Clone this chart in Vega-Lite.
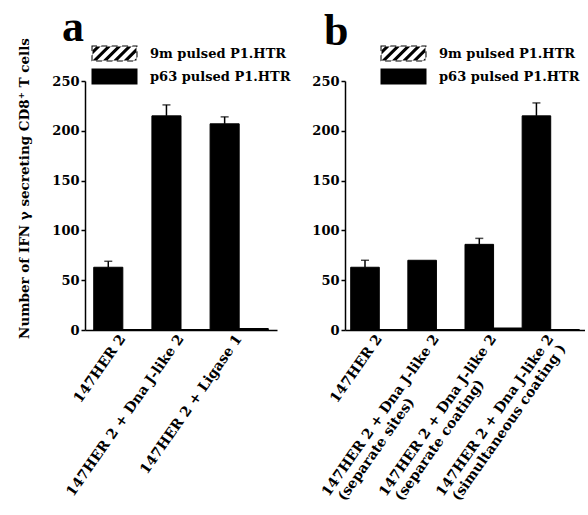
{
  "$schema": "https://vega.github.io/schema/vega-lite/v6.json",
  "padding": {"left": 17, "top": 5, "right": 0, "bottom": 0},
  "background": "white",
  "config": {
    "font": "DejaVu Serif",
    "view": {"stroke": null},
    "axis": {
      "domainColor": "black", "domainWidth": 1.5, "tickColor": "black", "tickWidth": 1.5,
      "labelFont": "DejaVu Serif", "labelFontWeight": "bold", "labelColor": "black",
      "titleFont": "DejaVu Serif", "titleFontWeight": "bold", "titleColor": "black", "grid": false
    },
    "legend": {
      "labelFont": "DejaVu Serif", "labelFontWeight": "bold", "labelColor": "black", "labelFontSize": 13
    },
    "title": {"font": "Liberation Serif", "fontWeight": "bold", "fontSize": 44, "color": "black", "anchor": "start", "frame": "group"}
  },
  "datasets": {
    "a": [
      {"cat": "147HER 2", "series": "p63 pulsed P1.HTR", "value": 63, "err": 69},
      {"cat": "147HER 2", "series": "9m pulsed P1.HTR", "value": 0.5, "err": 0},
      {"cat": "147HER 2 + Dna J-like 2", "series": "p63 pulsed P1.HTR", "value": 215, "err": 226},
      {"cat": "147HER 2 + Dna J-like 2", "series": "9m pulsed P1.HTR", "value": 0.5, "err": 0},
      {"cat": "147HER 2 + Ligase 1", "series": "p63 pulsed P1.HTR", "value": 207, "err": 214},
      {"cat": "147HER 2 + Ligase 1", "series": "9m pulsed P1.HTR", "value": 1.5, "err": 0}
    ],
    "b": [
      {"cat": "147HER 2", "series": "p63 pulsed P1.HTR", "value": 63, "err": 70},
      {"cat": "147HER 2", "series": "9m pulsed P1.HTR", "value": 0.5, "err": 0},
      {"cat": "147HER 2 + Dna J-like 2|(separate sites)", "series": "p63 pulsed P1.HTR", "value": 70, "err": 0},
      {"cat": "147HER 2 + Dna J-like 2|(separate sites)", "series": "9m pulsed P1.HTR", "value": 0.5, "err": 0},
      {"cat": "147HER 2 + Dna J-like 2|(separate coating)", "series": "p63 pulsed P1.HTR", "value": 86, "err": 92},
      {"cat": "147HER 2 + Dna J-like 2|(separate coating)", "series": "9m pulsed P1.HTR", "value": 2, "err": 0},
      {"cat": "147HER 2 + Dna J-like 2|(simultaneous coating )", "series": "p63 pulsed P1.HTR", "value": 215, "err": 228},
      {"cat": "147HER 2 + Dna J-like 2|(simultaneous coating )", "series": "9m pulsed P1.HTR", "value": 0.5, "err": 0}
    ]
  },
  "hconcat": [
    {
      "width": 192, "height": 249,
      "title": {"text": "a", "dx": -23, "offset": -12},
      "data": {"name": "a"},
      "encoding": {
        "x": {"field": "cat", "type": "nominal", "sort": null,
              "scale": {"paddingInner": 0, "paddingOuter": 0.15},
              "axis": {"title": null, "labelAngle": -55, "labelAlign": "right", "labelBaseline": "middle", "ticks": false, "labelLimit": 0,
                       "labelFontSize": 14, "labelPadding": 6}},
        "xOffset": {"field": "series", "type": "nominal", "scale": {"domain": ["p63 pulsed P1.HTR", "9m pulsed P1.HTR"], "paddingInner": 0}}
      },
      "layer": [
        {
          "mark": {"type": "bar", "stroke": "black", "strokeWidth": 1},
          "encoding": {
            "y": {"field": "value", "type": "quantitative", "scale": {"domain": [0, 250], "nice": false},
                  "axis": {"values": [0, 50, 100, 150, 200, 250], "tickSize": 4, "labelFontSize": 13, "labelPadding": 2,
                           "title": "Number of IFN γ secreting CD8⁺ T cells", "titleFontSize": 13.5, "titlePadding": 20, "titleY": 107}},
            "fill": {"field": "series", "type": "nominal",
                     "scale": {"domain": ["9m pulsed P1.HTR", "p63 pulsed P1.HTR"], "range": ["black", "black"]},
                     "legend": {"orient": "none", "legendX": 18, "legendY": -39, "title": null, "direction": "vertical",
                                "symbolSize": 529, "symbolStrokeWidth": 0, "symbolOpacity": 1, "labelOffset": 24, "rowPadding": 3}}
          }
        },
        {
          "transform": [{"filter": "false"}],
          "mark": {"type": "point", "filled": true},
          "encoding": {
            "y": {"field": "value", "type": "quantitative"},
            "shape": {"field": "series", "type": "nominal",
                      "scale": {"domain": ["9m pulsed P1.HTR", "p63 pulsed P1.HTR"],
                                "range": ["M-2,-0.7H2V0.7H-2Z M-1.91,-0.61V0.61H1.91V-0.61Z M-2,0.18L-1.12,-0.7L-1.5,-0.7L-2,-0.2Z M-2,0.7L-1.62,0.7L-0.22,-0.7L-0.6,-0.7Z M-1.1,0.7L-0.72,0.7L0.68,-0.7L0.3,-0.7Z M-0.2,0.7L0.18,0.7L1.58,-0.7L1.2,-0.7Z M0.7,0.7L1.08,0.7L2,-0.22L2,-0.6Z M1.6,0.7L1.98,0.7L2,0.68L2,0.3Z", "M-2,-0.7H2V0.7H-2Z"]},
                      "legend": {"orient": "none", "legendX": 18, "legendY": -39, "title": null, "direction": "vertical",
                                 "symbolSize": 529, "symbolStrokeWidth": 0, "symbolOpacity": 1, "labelOffset": 24, "rowPadding": 3}}
          }
        },
        {
          "transform": [{"filter": "datum.err > 0"}],
          "mark": {"type": "rule", "color": "black", "strokeWidth": 1.5},
          "encoding": {"y": {"field": "value", "type": "quantitative"}, "y2": {"field": "err"}}
        },
        {
          "transform": [{"filter": "datum.err > 0"}],
          "mark": {"type": "tick", "color": "black", "orient": "horizontal", "size": 8, "thickness": 1.5},
          "encoding": {"y": {"field": "err", "type": "quantitative"}}
        }
      ]
    },
    {
      "width": 240, "height": 249,
      "title": {"text": "b", "dx": -21, "offset": -12},
      "data": {"name": "b"},
      "encoding": {
        "x": {"field": "cat", "type": "nominal", "sort": null,
              "scale": {"paddingInner": 0, "paddingOuter": 0.1},
              "axis": {"orient": "bottom", "title": null, "labelAngle": -55, "labelAlign": "right", "labelBaseline": "middle", "ticks": false, "labelLimit": 0,
                       "labelFontSize": 14, "labelPadding": 6, "labelExpr": "split(datum.label, '|')[0]"}},
        "xOffset": {"field": "series", "type": "nominal", "scale": {"domain": ["p63 pulsed P1.HTR", "9m pulsed P1.HTR"], "paddingInner": 0}}
      },
      "layer": [
        {
          "mark": {"type": "bar", "stroke": "black", "strokeWidth": 1},
          "encoding": {
            "y": {"field": "value", "type": "quantitative", "scale": {"domain": [0, 250], "nice": false},
                  "axis": {"values": [0, 50, 100, 150, 200, 250], "tickSize": 4, "labelFontSize": 13, "labelPadding": 2, "title": null}},
            "fill": {"field": "series", "type": "nominal",
                     "scale": {"domain": ["9m pulsed P1.HTR", "p63 pulsed P1.HTR"], "range": ["black", "black"]},
                     "legend": {"orient": "none", "legendX": 47, "legendY": -39, "title": null, "direction": "vertical",
                                "symbolSize": 529, "symbolStrokeWidth": 0, "symbolOpacity": 1, "labelOffset": 24, "rowPadding": 3}}
          }
        },
        {
          "transform": [{"filter": "false"}],
          "mark": {"type": "point", "filled": true},
          "encoding": {
            "x": {"field": "cat", "type": "nominal", "sort": null,
                  "axis": {"orient": "bottom", "title": null, "domain": false, "ticks": false, "labelAngle": -55, "labelAlign": "left", "labelBaseline": "middle",
                           "labelLimit": 0, "labelFontSize": 14, "labelPadding": 169, "labelOffset": -95,
                           "labelExpr": "split(datum.label, '|')[1] || ''"}},
            "y": {"field": "value", "type": "quantitative"},
            "shape": {"field": "series", "type": "nominal",
                      "scale": {"domain": ["9m pulsed P1.HTR", "p63 pulsed P1.HTR"],
                                "range": ["M-2,-0.7H2V0.7H-2Z M-1.91,-0.61V0.61H1.91V-0.61Z M-2,0.18L-1.12,-0.7L-1.5,-0.7L-2,-0.2Z M-2,0.7L-1.62,0.7L-0.22,-0.7L-0.6,-0.7Z M-1.1,0.7L-0.72,0.7L0.68,-0.7L0.3,-0.7Z M-0.2,0.7L0.18,0.7L1.58,-0.7L1.2,-0.7Z M0.7,0.7L1.08,0.7L2,-0.22L2,-0.6Z M1.6,0.7L1.98,0.7L2,0.68L2,0.3Z", "M-2,-0.7H2V0.7H-2Z"]},
                      "legend": {"orient": "none", "legendX": 47, "legendY": -39, "title": null, "direction": "vertical",
                                 "symbolSize": 529, "symbolStrokeWidth": 0, "symbolOpacity": 1, "labelOffset": 24, "rowPadding": 3}}
          }
        },
        {
          "transform": [{"filter": "datum.err > 0"}],
          "mark": {"type": "rule", "color": "black", "strokeWidth": 1.5},
          "encoding": {"x": {"field": "cat", "type": "nominal", "sort": null, "axis": null},
                       "y": {"field": "value", "type": "quantitative"}, "y2": {"field": "err"}}
        },
        {
          "transform": [{"filter": "datum.err > 0"}],
          "mark": {"type": "tick", "color": "black", "orient": "horizontal", "size": 8, "thickness": 1.5},
          "encoding": {"x": {"field": "cat", "type": "nominal", "sort": null, "axis": null},
                       "y": {"field": "err", "type": "quantitative"}}
        }
      ],
      "resolve": {"axis": {"x": "independent"}}
    }
  ],
  "spacing": 68,
  "bounds": "flush",
  "resolve": {"legend": {"fill": "independent", "shape": "independent"}, "scale": {"x": "independent", "xOffset": "independent", "shape": "independent"}}
}
